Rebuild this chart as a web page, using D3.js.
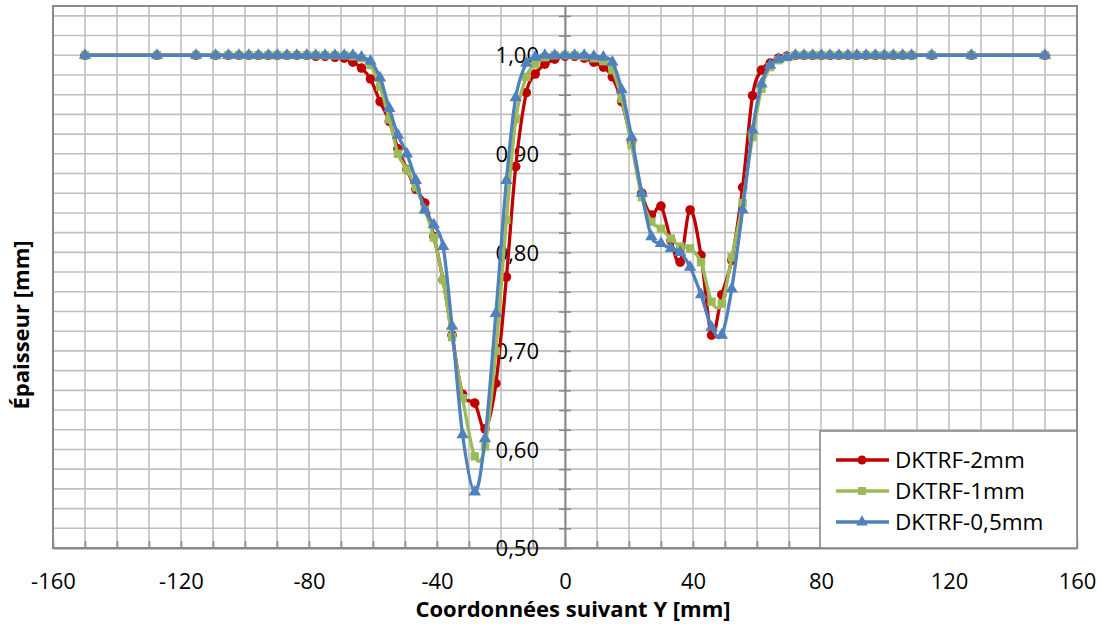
<!DOCTYPE html>
<html><head><meta charset="utf-8">
<script src="https://cdn.jsdelivr.net/npm/d3@7"></script>
<style>
body{margin:0;background:#fff;}
text{font-family:"Open Sans",sans-serif;fill:#000;}
</style>
</head><body>
<svg id="chart" width="1102" height="624"></svg>
<script>
// ---- data ----
const xPos = [-150,-127.5,-115.3,-109.2,-105.2,-101.9,-98.8,-95.8,-92.7,-89.9,-86.9,-83.8,-80.7,-77.9,-75,-71.9,-69,-66.3,-63.6,-60.8,
  -57.8,-54.9,-52.2,-49.4,-46.6,-43.8,-41,-38.1,-35.3,-32,-28.2,-25,-21.6,-18.3,-15.4,-12.1,-9.3,-6.3,-3.2,0,
  3,6,9,12,14.8,17.7,20.8,24,27,30,33.1,36,39.1,42.5,45.8,49,52.1,55.5,58.6,61.4,
  64.1,66.7,69.3,72,74.7,77.4,80.1,82.8,85.6,88.4,91.2,94.1,97,99.8,102.6,105.5,108.3,114.6,127,150];

const seriesNames = ["DKTRF-2mm","DKTRF-1mm","DKTRF-0,5mm"];

const thick2mm = [1,1,1,1,1,1,1,1,1,1,1,1,1,0.999,0.999,0.998,0.997,0.993,0.987,0.976,
  0.953,0.933,0.905,0.884,0.864,0.850,0.816,0.772,0.716,0.656,0.647,0.621,0.667,0.775,0.887,0.962,0.981,0.991,0.996,0.999,
  0.999,0.997,0.993,0.988,0.978,0.953,0.912,0.860,0.838,0.847,0.812,0.790,0.843,0.797,0.716,0.757,0.792,0.866,0.959,0.985,
  0.992,0.997,0.999,1,1,1,1,1,1,1,1,1,1,1,1,1,1,1,1,1];

const thick1mm = [1,1,1,1,1,1,1,1,1,1,1,1,1,1,1,1,1,0.999,0.997,0.990,
  0.968,0.935,0.900,0.884,0.866,0.843,0.815,0.772,0.714,0.652,0.593,0.603,0.700,0.833,0.935,0.978,0.991,0.998,1,1,
  1,0.999,0.997,0.994,0.985,0.956,0.909,0.856,0.831,0.824,0.814,0.806,0.804,0.790,0.750,0.748,0.795,0.850,0.917,0.966,
  0.988,0.995,0.998,1,1,1,1,1,1,1,1,1,1,1,1,1,1,1,1,1];

const thick05mm = [1,1,1,1,1,1,1,1,1,1,1,1,1,1,1,1,1,1,0.998,0.994,
  0.977,0.946,0.919,0.900,0.873,0.843,0.828,0.806,0.725,0.615,0.557,0.611,0.738,0.873,0.957,0.992,0.998,1,1,1,
  1,1,0.999,0.998,0.993,0.965,0.917,0.860,0.816,0.809,0.804,0.800,0.785,0.757,0.724,0.716,0.763,0.843,0.924,0.971,
  0.990,0.996,0.998,1,1,1,1,1,1,1,1,1,1,1,1,1,1,1,1,1];

const xTickLabels = [-160,-120,-80,-40,0,40,80,120,160];
const yTickLabels = [0.5,0.6,0.7,0.8,0.9,1.0];

// ---- drawing ----
const svg = d3.select("#chart");
const L = 53, R = 1077, T = 6, B = 548;
const x = d3.scaleLinear().domain([-160,160]).range([L,R]);
const y = d3.scaleLinear().domain([0.5,1.05]).range([B,T]);

const gridCol = "#c0c0c0", axisCol = "#898989";

// gridlines
const xGrid = d3.range(-150,160,10);
const yGrid = d3.range(26,53).map(k => +(k*0.02).toFixed(2));
svg.append("g").selectAll("line").data(xGrid).join("line")
  .attr("x1",d=>x(d)).attr("x2",d=>x(d)).attr("y1",T).attr("y2",B)
  .attr("stroke",gridCol).attr("stroke-width",1.6);
svg.append("g").selectAll("line").data(yGrid).join("line")
  .attr("x1",L).attr("x2",R).attr("y1",d=>y(d)).attr("y2",d=>y(d))
  .attr("stroke",gridCol).attr("stroke-width",1.6);

// plot border
svg.append("rect").attr("x",L).attr("y",T).attr("width",R-L).attr("height",B-T)
  .attr("fill","none").attr("stroke",axisCol).attr("stroke-width",2);

const fmt = d => d3.format(".2f")(d).replace(".",",");

// x axis (bottom, ticks pointing up)
const xAxis = d3.axisBottom(x).tickValues(d3.range(-160,161,10)).tickSize(-7).tickSizeOuter(0)
  .tickFormat(d => xTickLabels.includes(d) ? d : "");
const gx = svg.append("g").attr("transform",`translate(0,${B})`).call(xAxis);
gx.select(".domain").attr("stroke",axisCol).attr("stroke-width",2);
gx.selectAll(".tick line").attr("stroke",axisCol).attr("stroke-width",1.6);
gx.selectAll(".tick text").attr("y",33).attr("dy","0.35em").style("font-size","22px").style("font-family","Open Sans");

// y axis crossing at x = 0
const yMinor = d3.range(25,53).map(k => +(k*0.02).toFixed(2));
const yAxis = d3.axisLeft(y).tickValues(yMinor).tickSize(6).tickSizeOuter(0)
  .tickFormat(d => yTickLabels.some(v => Math.abs(v-d)<1e-9) ? fmt(d) : "");
const gy = svg.append("g").attr("transform",`translate(${x(0)},0)`).call(yAxis);
gy.select(".domain").attr("stroke",axisCol).attr("stroke-width",2);
gy.selectAll(".tick line").attr("x1",-6).attr("x2",6).attr("stroke",axisCol).attr("stroke-width",1.6);
gy.selectAll(".tick text").attr("x",-26).attr("dy","0.35em").style("font-size","22px").style("font-family","Open Sans");

// series
const series = [
  {name:seriesNames[0], vals:thick2mm, color:"#C00000", sym:d3.symbolCircle, size:72},
  {name:seriesNames[1], vals:thick1mm, color:"#9BBB59", sym:d3.symbolSquare, size:70},
  {name:seriesNames[2], vals:thick05mm, color:"#4F81BD", sym:d3.symbolTriangle, size:66}
];
const line = d3.line().x(d=>x(d[0])).y(d=>y(d[1])).curve(d3.curveCatmullRom.alpha(0));
series.forEach(s => {
  const pts = xPos.map((xv,i)=>[xv,s.vals[i]]);
  svg.append("path").datum(pts).attr("d",line).attr("fill","none")
    .attr("stroke",s.color).attr("stroke-width",3.3).attr("stroke-linejoin","round");
  svg.append("g").selectAll("path").data(pts).join("path")
    .attr("d", d3.symbol().type(s.sym).size(s.size))
    .attr("transform", d=>`translate(${x(d[0])},${y(d[1])})`)
    .attr("fill", s.color);
});

// legend
const lg = svg.append("g");
lg.append("rect").attr("x",820).attr("y",431).attr("width",R-820).attr("height",B-431)
  .attr("fill","#fff").attr("stroke",axisCol).attr("stroke-width",1.6);
series.forEach((s,i) => {
  const yy = 460 + i*31;
  lg.append("line").attr("x1",836).attr("x2",889).attr("y1",yy).attr("y2",yy)
    .attr("stroke",s.color).attr("stroke-width",3.3);
  lg.append("path").attr("d", d3.symbol().type(s.sym).size(s.size*0.9)).attr("transform",`translate(862,${yy})`).attr("fill",s.color);
  lg.append("text").attr("x",895).attr("y",yy).attr("dy","0.35em").style("font-size","22.5px").text(s.name);
});

// axis titles
svg.append("text").attr("x",573).attr("y",609).attr("dy","0.35em").attr("text-anchor","middle")
  .style("font-size","22px").style("font-weight","bold").text("Coordonnées suivant Y [mm]");
svg.append("text").attr("transform","translate(21,325) rotate(-90)").attr("dy","0.35em").attr("text-anchor","middle")
  .style("font-size","22px").style("font-weight","bold").text("Épaisseur [mm]");
</script>
</body></html>
